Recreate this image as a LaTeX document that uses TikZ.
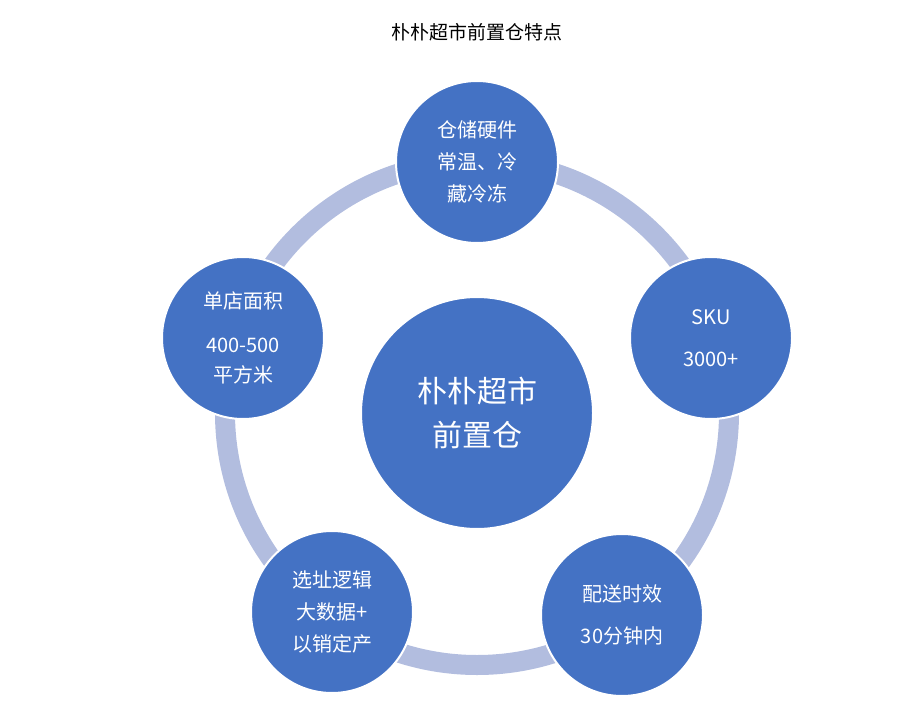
\documentclass[tikz,border=0pt]{standalone}
\usepackage{fontspec}
\setmainfont{Noto Sans CJK SC}
\begin{document}
\begin{tikzpicture}[x=1pt,y=-1pt,
  ring/.style={draw=ringc,line width=20pt},
  bubble/.style={circle,fill=bluec,draw=white,line width=2pt,text=white,align=center,inner sep=0pt,minimum size=162pt,font=\fontsize{20}{32}\selectfont},
  big/.style={bubble,minimum size=232pt,font=\fontsize{30}{44}\selectfont}]
\definecolor{ringc}{HTML}{B2BDDF}
\definecolor{bluec}{HTML}{4472C4}
\useasboundingbox (0,0) rectangle (910,711);
\node (title) at (477,32) {\fontsize{19}{22}\selectfont 朴朴超市前置仓特点};
\coordinate (c) at (477,413);
\draw[ring] (c) circle[radius=252];
\node[big] (center) at (c) {朴朴超市\\前置仓};
\node[bubble] (top) at (477,162) {仓储硬件\\常温、冷\\藏冷冻};
\node[bubble] (sku) at (711,338) {SKU\\[10pt]3000+};
\node[bubble] (deliv) at (622,615) {配送时效\\[10pt]30分钟内};
\node[bubble] (site) at (332,612) {选址逻辑\\大数据+\\以销定产};
\node[bubble] (area) at (243,338) {单店面积\\[12pt]400-500\\[-2pt]平方米};
\end{tikzpicture}
\end{document}
